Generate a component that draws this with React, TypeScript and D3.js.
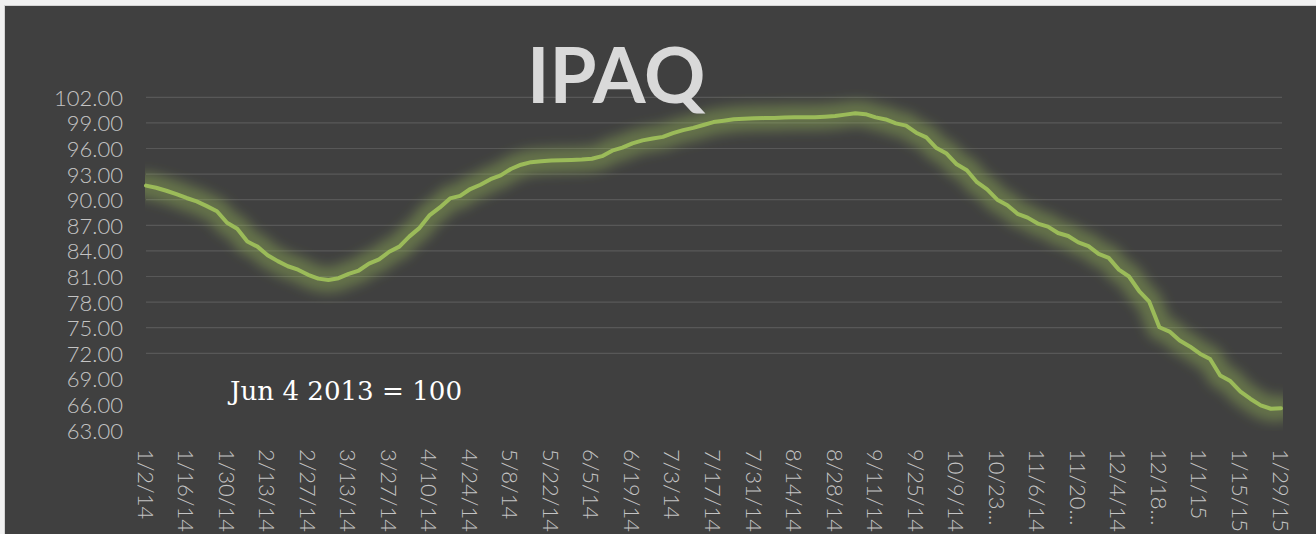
import * as d3 from 'd3';

// index values, two readings per week from 1/2/14 to 1/29/15
const ipaq = [
  91.65, 91.4, 91.05, 90.65, 90.2, 89.8, 89.25, 88.65, 87.3, 86.6,
  85.1, 84.5, 83.5, 82.8, 82.2, 81.8, 81.2, 80.75, 80.6, 80.8,
  81.3, 81.7, 82.5, 83.0, 83.9, 84.5, 85.7, 86.7, 88.2, 89.1,
  90.15, 90.45, 91.25, 91.75, 92.4, 92.85, 93.6, 94.1, 94.4, 94.5,
  94.58, 94.62, 94.66, 94.7, 94.8, 95.1, 95.75, 96.1, 96.6, 96.95,
  97.18, 97.36, 97.8, 98.15, 98.42, 98.75, 99.1, 99.26, 99.42, 99.5,
  99.55, 99.56, 99.57, 99.62, 99.65, 99.65, 99.66, 99.72, 99.8, 99.97,
  100.12, 100.02, 99.65, 99.4, 98.95, 98.68, 97.85, 97.3, 96.05, 95.4,
  94.15, 93.45, 92.05, 91.2, 90.0, 89.35, 88.35, 87.9, 87.2, 86.85,
  86.1, 85.75, 85.0, 84.55, 83.65, 83.18, 81.8, 81.0, 79.3, 78.05,
  75.05, 74.55, 73.5, 72.8, 71.95, 71.33, 69.4, 68.75, 67.5, 66.65,
  65.9, 65.5, 65.56,
];

const dateLabels = [
  '1/2/14', '1/16/14', '1/30/14', '2/13/14', '2/27/14', '3/13/14', '3/27/14',
  '4/10/14', '4/24/14', '5/8/14', '5/22/14', '6/5/14', '6/19/14', '7/3/14',
  '7/17/14', '7/31/14', '8/14/14', '8/28/14', '9/11/14', '9/25/14', '10/9/14',
  '10/23…', '11/6/14', '11/20…', '12/4/14', '12/18…', '1/1/15', '1/15/15',
  '1/29/15',
];

const yTicks = [102, 99, 96, 93, 90, 87, 84, 81, 78, 75, 72, 69, 66, 63];
const gridFloor = 72;

const title = 'IPAQ';
const note = 'Jun 4 2013 = 100';

export default function App() {
  const width = 1316;
  const height = 534;
  const plot = { left: 146, right: 1281, top: 97.3, bottom: 430.1 };
  const labelFont = "Lato, 'Open Sans', sans-serif";

  const x = d3.scaleLinear().domain([0, ipaq.length - 1]).range([plot.left, plot.right]);
  const y = d3.scaleLinear().domain([63, 102]).range([plot.bottom, plot.top]);
  const step = (ipaq.length - 1) / (dateLabels.length - 1);

  const linePath =
    d3
      .line<number>()
      .x((_, i) => x(i))
      .y((d) => y(d))(ipaq) ?? '';

  return (
    <div style={{ position: 'fixed', left: 0, top: 0 }}>
      <svg width={width} height={height} style={{ display: 'block' }}>
        <defs>
          <filter id="glow" x="-10%" y="-30%" width="120%" height="160%">
            <feGaussianBlur stdDeviation={6} />
          </filter>
          <clipPath id="plotClip">
            <rect x={plot.left - 1} y={0} width={plot.right - plot.left + 3} height={plot.bottom + 1} />
          </clipPath>
        </defs>

        <rect x={0} y={0} width={width} height={height} fill="#f1f1f1" />
        <rect x={4.5} y={5.5} width={width} height={height} fill="#404040" stroke="#d4d4d4" />

        {yTicks
          .filter((v) => v >= gridFloor)
          .map((v) => (
            <line
              key={v}
              x1={plot.left}
              x2={plot.right + 1}
              y1={y(v)}
              y2={y(v)}
              stroke="#585858"
              strokeWidth={1.2}
            />
          ))}

        {yTicks.map((v) => (
          <text
            key={v}
            x={123}
            y={y(v)}
            textAnchor="end"
            dominantBaseline="central"
            fill="#c4c4c4"
            fontFamily={labelFont}
            fontWeight={300}
            fontSize={22}
          >
            {v.toFixed(2)}
          </text>
        ))}

        {dateLabels.map((t, k) => {
          const tx = x(k * step);
          return (
            <text
              key={t}
              x={tx}
              y={449}
              transform={`rotate(90, ${tx}, 449)`}
              dominantBaseline="central"
              fill="#c4c4c4"
              fontFamily={labelFont}
              fontWeight={300}
              fontSize={22}
            >
              {t}
            </text>
          );
        })}

        <g clipPath="url(#plotClip)">
          <path
            d={linePath}
            fill="none"
            stroke="#9bbb59"
            strokeOpacity={0.4}
            strokeWidth={26}
            strokeLinejoin="round"
            strokeLinecap="round"
            filter="url(#glow)"
          />
        </g>
        <path
          d={linePath}
          fill="none"
          stroke="#9bbb59"
          strokeWidth={4}
          strokeLinejoin="round"
          strokeLinecap="round"
        />

        <text
          x={527}
          y={103}
          fill="#d9d9d9"
          fontFamily={labelFont}
          fontWeight={700}
          fontSize={76}
        >
          {title}
        </text>

        <text
          x={230}
          y={400}
          fill="#ffffff"
          fontFamily="'DejaVu Serif', serif"
          fontSize={26}
          textLength={232}
          lengthAdjust="spacingAndGlyphs"
        >
          {note}
        </text>
      </svg>
    </div>
  );
}
